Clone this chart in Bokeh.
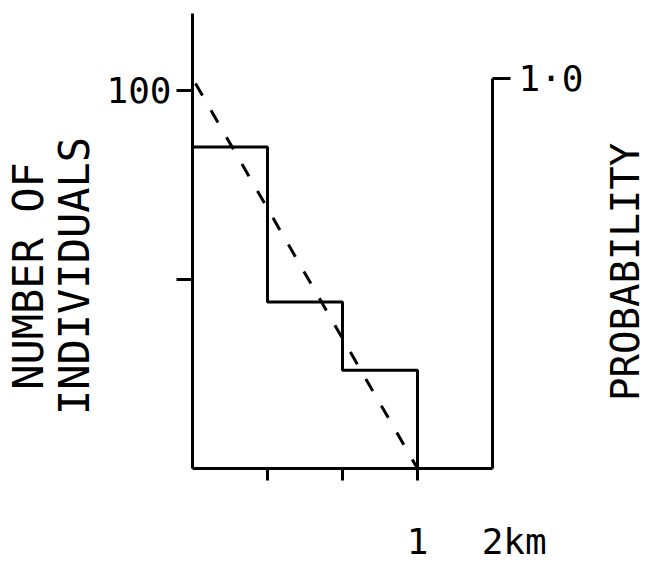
import math
from bokeh.plotting import figure
from bokeh.layouts import row
from bokeh.models import Range1d, LinearAxis, FixedTicker
from bokeh.core.properties import value
from bokeh.embed import file_html
from bokeh.resources import INLINE

# ---- data ----
bin_edges = [0, 1, 2, 3]            # x positions of the interval edges (tick units)
counts = [85, 44, 26]               # number of individuals in each interval
prob_x = [0, 3]                     # dashed probability line
prob_y = [1.0, 0.0]
y_ticks = [50, 100]
y_tick_labels = {50: "", 100: "100"}
x_ticks = [1, 2, 3]
x_label_ticks = [3, 4]
x_label_text = {3: "1", 4: "\u00a0\u00a02km"}
prob_ticks = [1.0]
prob_tick_labels = {1.0: "1·0"}
left_title = ["NUMBER OF", "INDIVIDUALS"]
right_title = ["PROBABILITY"]

FONT = "DejaVu Sans Mono"
LW = 3

y_main = Range1d(0, 120.3)
y_prob = Range1d(0, 1.166)


def bare(fig):
    fig.outline_line_color = None
    fig.background_fill_color = "white"
    fig.border_fill_color = "white"


# ---- main plot ----
p = figure(width=490, height=564, x_range=Range1d(0, 4), y_range=y_main,
           output_backend="svg", toolbar_location=None,
           x_axis_type=None, y_axis_type=None,
           min_border_left=92, min_border_right=98,
           min_border_top=13, min_border_bottom=95)
bare(p)
p.extra_y_ranges = {"prob": y_prob}


def style(ax, tick_out, standoff, size):
    ax.major_tick_out = tick_out
    ax.major_tick_in = 0
    ax.minor_tick_out = 0
    ax.minor_tick_in = 0
    ax.axis_line_width = LW
    ax.axis_line_color = "black"
    ax.major_tick_line_width = LW
    ax.major_tick_line_color = "black"
    ax.major_label_standoff = standoff
    ax.major_label_text_font = FONT
    ax.major_label_text_font_size = size
    ax.major_label_text_color = "black"


ly = LinearAxis(ticker=FixedTicker(ticks=y_ticks), major_label_overrides=y_tick_labels)
style(ly, 16, 5, "36px")
p.add_layout(ly, "left")

ry = LinearAxis(y_range_name="prob", ticker=FixedTicker(ticks=prob_ticks),
                major_label_overrides=prob_tick_labels, bounds=(0, 1.0))
style(ry, 18, 8, "36px")
p.add_layout(ry, "right")

# bottom axis: line and tick marks only
bx = LinearAxis(ticker=FixedTicker(ticks=x_ticks),
                major_label_overrides={t: "" for t in x_ticks})
style(bx, 12, 0, "1px")
p.add_layout(bx, "below")

# bottom labels (no line, no marks)
bl = LinearAxis(ticker=FixedTicker(ticks=x_label_ticks), major_label_overrides=x_label_text)
style(bl, 0, 40, "36px")
bl.axis_line_color = None
bl.major_tick_line_color = None
p.add_layout(bl, "below")

# histogram outline (step)
p.step(x=bin_edges, y=counts + [0], mode="after", line_width=LW, line_color="black")
# probability (dashed)
p.line(prob_x, prob_y, y_range_name="prob", line_width=LW, line_color="black",
       line_dash="14 17", line_dash_offset=-6)

# ---- left title panel ----
lt = figure(width=100, height=564, x_range=Range1d(0, 100), y_range=y_main,
            output_backend="svg", toolbar_location=None,
            x_axis_type=None, y_axis_type=None,
            min_border_left=0, min_border_right=0,
            min_border_top=13, min_border_bottom=95)
bare(lt)
lt.text(x=[28, 74], y=[50.9, 50.9], text=left_title, angle=math.pi / 2,
        text_align="center", text_baseline="alphabetic",
        text_font=value(FONT), text_font_size=value("42px"), text_color="black")

# ---- right title panel ----
rt = figure(width=63, height=564, x_range=Range1d(0, 63), y_range=y_prob,
            output_backend="svg", toolbar_location=None,
            x_axis_type=None, y_axis_type=None,
            min_border_left=0, min_border_right=0,
            min_border_top=13, min_border_bottom=95)
bare(rt)
rt.text(x=[35], y=[0.504], text=right_title, angle=math.pi / 2,
        text_align="center", text_baseline="alphabetic",
        text_font=value(FONT), text_font_size=value("39px"), text_color="black")

layout = row(lt, p, rt)
open("out.html", "w").write(file_html(layout, INLINE))
